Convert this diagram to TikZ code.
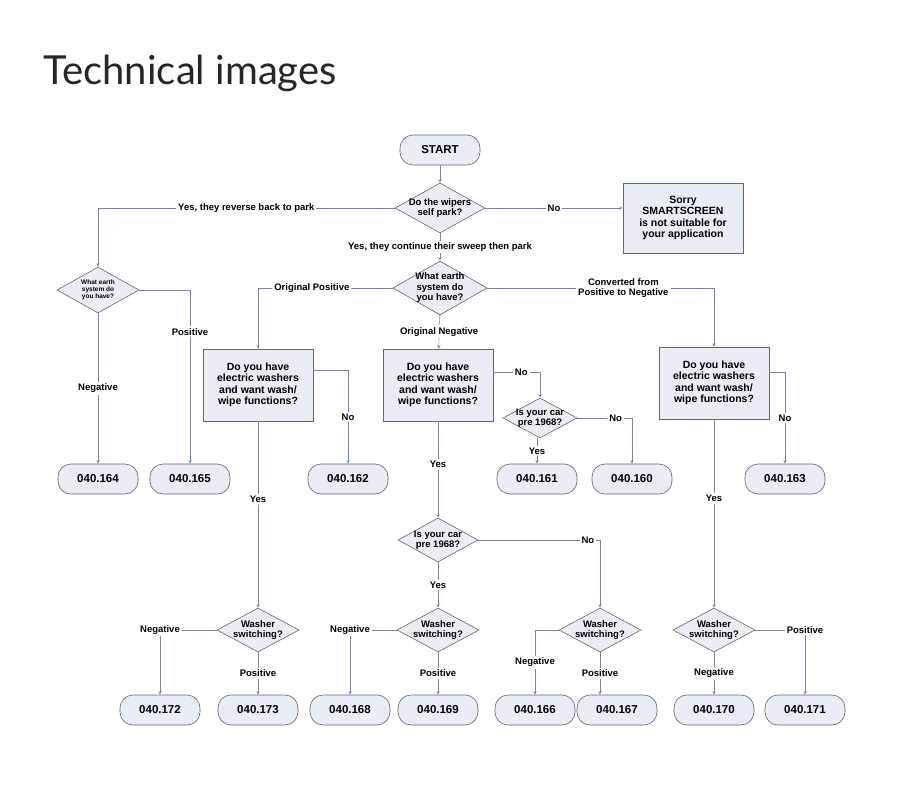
\documentclass[tikz,border=0pt]{standalone}
\usepackage{fontspec}
\setmainfont{Liberation Sans}
\newfontfamily\titlefont{Lato}
\usetikzlibrary{shapes.geometric,arrows,positioning}
\definecolor{lineblue}{HTML}{6F88B2}
\definecolor{boxfill}{HTML}{E9EDF6}
\definecolor{titlecol}{HTML}{1F2A27}
\begin{document}
\begin{tikzpicture}[x=1pt, y=-1pt, >=stealth, semithick, font=\bfseries\fontsize{9.5}{10.5}\selectfont]
    \tikzset{term/.style={rounded corners=13pt, draw=gray!80!black, fill=boxfill, minimum width=80pt, minimum height=30pt, font=\bfseries\fontsize{11.5}{12}\selectfont},
        quest/.style={diamond, aspect=1.9, draw=gray!80!black, fill=boxfill, inner sep=-2pt, align=center},
        box/.style={draw=gray!80!black, fill=boxfill, align=center, minimum width=110pt, minimum height=72pt, inner sep=2pt, font=\bfseries\fontsize{10.5}{11.5}\selectfont},
        lab/.style={fill=white, inner sep=2pt, align=center},
        conn/.style={->, draw=lineblue}}
    \useasboundingbox (0,0) rectangle (903,800);
    \node[anchor=west, text=titlecol, font=\titlefont\fontsize{40}{42}\selectfont] (title) at (40,73) {Technical images};

    % top part
    \node[term, minimum width=80pt] (start) at (440,150) {START};
    \node[quest, minimum width=90pt, minimum height=50pt] (park) at (440,208) {Do the wipers\\self park?};
    \node[box, minimum width=120pt, minimum height=70pt] (sorry) at (683,218) {Sorry\\SMARTSCREEN\\is not suitable for\\your application};
    \node[quest, minimum width=84pt, minimum height=54pt] (earth) at (440,288) {What earth\\system do\\you have?};
    \node[quest, minimum width=82pt, minimum height=46pt, inner sep=0pt, font=\bfseries\fontsize{6.5}{7}\selectfont] (earthL) at (98,290) {What earth\\system do\\you have?};

    % boxes
    \node[box] (washA) at (258,385) {Do you have\\electric washers\\and want wash/\\wipe functions?};
    \node[box] (washB) at (438,385) {Do you have\\electric washers\\and want wash/\\wipe functions?};
    \node[box] (washC) at (714,383) {Do you have\\electric washers\\and want wash/\\wipe functions?};
    \node[quest, minimum width=74pt, minimum height=40pt] (preA) at (540,418) {Is your car\\pre 1968?};
    \node[quest, minimum width=80pt, minimum height=44pt] (preB) at (438,540) {Is your car\\pre 1968?};

    % washer switching
    \node[quest, minimum width=82pt, minimum height=44pt] (swA) at (258,630) {Washer\\switching?};
    \node[quest, minimum width=82pt, minimum height=44pt] (swB) at (438,630) {Washer\\switching?};
    \node[quest, minimum width=82pt, minimum height=44pt] (swC) at (600,630) {Washer\\switching?};
    \node[quest, minimum width=82pt, minimum height=44pt] (swD) at (714,630) {Washer\\switching?};

    % end points
    \node[term] (t164) at (98,479) {040.164};
    \node[term] (t165) at (190,479) {040.165};
    \node[term] (t162) at (348,479) {040.162};
    \node[term] (t161) at (537,479) {040.161};
    \node[term] (t160) at (632,479) {040.160};
    \node[term] (t163) at (785,479) {040.163};
    \node[term] (t172) at (160,710) {040.172};
    \node[term] (t173) at (258,710) {040.173};
    \node[term] (t168) at (350,710) {040.168};
    \node[term] (t169) at (438,710) {040.169};
    \node[term] (t166) at (535,710) {040.166};
    \node[term] (t167) at (617,710) {040.167};
    \node[term] (t170) at (714,710) {040.170};
    \node[term] (t171) at (805,710) {040.171};

    \draw[conn] (start) -- (park);
    \draw[conn] (park) -- node[lab] {No} (sorry.west |- park);
    \draw[conn] (park.west) -- node[lab] {Yes, they reverse back to park} (98,208) -- (earthL);
    \draw[conn] (park) -- node[lab] {Yes, they continue their sweep then park} (earth);
    \draw[conn] (earthL) -- node[lab, pos=0.5] {Negative} (t164);
    \draw[conn] (earthL.east) -| node[lab, pos=0.62] {Positive} (t165);
    \draw[conn] (earth.west) -| node[lab, pos=0.3] {Original Positive} (washA);
    \draw[conn] (earth) -- node[lab] {Original Negative} (washB);
    \draw[conn] (earth.east) -| node[lab, pos=0.3] {Converted from\\Positive to Negative} (washC);

    \draw[conn] (washA.east |- 0,370) -| node[lab, pos=0.75] {No} (t162);
    \draw[conn] (washA) -- node[lab, pos=0.42] {Yes} (swA);
    \draw[conn] (washB.east |- 0,372) -| node[lab, pos=0.3] {No} (preA);
    \draw[conn] (preA) -| node[lab, pos=0.35] {No} (t160);
    \draw[conn] (preA.south -| t161) -- node[lab] {Yes} (t161);
    \draw[conn] (washB) -- node[lab, pos=0.45] {Yes} (preB);
    \draw[conn] (preB) -| node[lab, pos=0.45] {No} (swC);
    \draw[conn] (preB) -- node[lab] {Yes} (swB);
    \draw[conn] (washC.east |- 0,372) -| node[lab, pos=0.75] {No} (t163);
    \draw[conn] (washC) -- node[lab, pos=0.42] {Yes} (swD);

    \draw[conn] (swA) -| node[lab, pos=0.5] {Negative} (t172);
    \draw[conn] (swA) -- node[lab] {Positive} (t173);
    \draw[conn] (swB) -| node[lab, pos=0.5] {Negative} (t168);
    \draw[conn] (swB) -- node[lab] {Positive} (t169);
    \draw[conn] (swC) -| node[lab, pos=0.75] {Negative} (t166);
    \draw[conn] (swC.south) -- node[lab] {Positive} (t167.north -| swC.south);
    \draw[conn] (swD) -| node[lab, pos=0.5] {Positive} (t171);
    \draw[conn] (swD) -- node[lab] {Negative} (t170);
\end{tikzpicture}
\end{document}
